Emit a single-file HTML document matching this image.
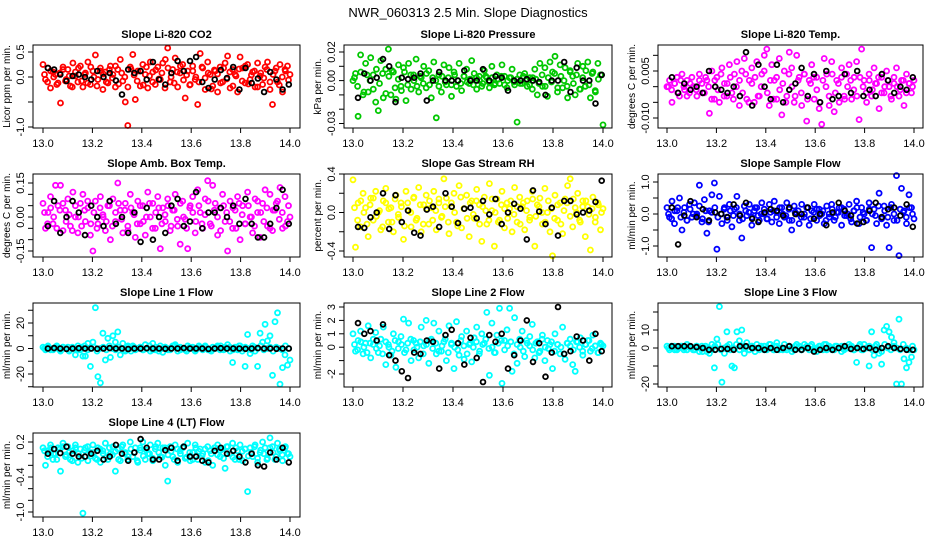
<!DOCTYPE html>
<html><head><meta charset="utf-8"><style>
html,body{margin:0;padding:0;background:#fff}
svg{display:block}
text{font-family:"Liberation Sans",sans-serif;fill:#000}
</style></head><body>
<svg id="chart" width="936" height="540" viewBox="0 0 936 540" xmlns="http://www.w3.org/2000/svg">
<text x="468" y="17" text-anchor="middle" font-size="13">NWR_060313  2.5 Min. Slope Diagnostics</text>
</svg>
<script>
const xTicks = [13.0, 13.2, 13.4, 13.6, 13.8, 14.0];
const xTickLabels = ["13.0","13.2","13.4","13.6","13.8","14.0"];

const co2 = [0.25,-0.05,0.18,-0.22,0.1,0.05,-0.12,-0.52,0.2,-0.08,0.15,-0.18,0.28,0.02,-0.1,0.22,-0.2,0.08,0.3,-0.15,0.12,0.44,-0.05,0.18,-0.25,0.1,-0.12,0.22,0.05,-0.2,0.15,0.35,-0.08,-0.5,-0.97,0.2,0.45,-0.45,0.12,-0.18,0.25,0.05,-0.22,0.3,0.1,-0.15,0.2,-0.05,0.28,0.35,0.58,-0.1,0.15,0.38,-0.2,0.08,0.25,-0.42,0.12,-0.15,0.22,-0.05,-0.55,0.47,0.18,-0.25,0.3,0.05,-0.18,0.12,-0.3,0.2,-0.1,0.28,0.42,-0.22,0.15,0.05,-0.3,0.4,0.18,-0.12,0.25,-0.05,0.1,-0.2,0.28,0.02,-0.15,0.2,0.3,-0.25,-0.55,0.12,-0.1,0.25,-0.3,0.15,0.22,0.05];
const co2B = [0.05,-0.1,0.12,0.0,-0.15,0.08,0.15,-0.05,0.02,-0.2,0.1,0.18,-0.08,0.05,-0.12,0.2,0.0,-0.18,0.12,0.06,-0.1,0.15,-0.02,0.22,-0.14,0.08,0.0,-0.2,0.16,0.04,-0.08,0.12,-0.16,0.2,0.02,-0.1,0.14,-0.04,0.08,-0.22,0.18,0.0,-0.12,0.1,0.22,-0.06,0.04,-0.16,0.12,0.0,-0.1,0.2,-0.02,0.08,-0.24,0.14,0.06,-0.12,0.18,-0.04,0.1,-0.18,0.02,0.16,-0.08,0.22,-0.14,0.04,0.12,-0.2,0.08,-0.02,0.15,-0.1,0.05,0.18,-0.16,0.0,0.12,-0.06];
const co2Ref = [0.18,0.15,0.05,-0.08,0.02,0.05,0.0,-0.05,0.12,0.0,0.08,-0.07,-0.35,0.15,0.08,0.12,-0.05,0.3,-0.05,-0.15,0.08,0.32,0.12,0.32,0.4,-0.1,-0.22,-0.05,0.14,-0.02,0.2,-0.25,0.18,-0.12,-0.03,-0.3,0.1,-0.05,-0.25,-0.15];
const press = [0.0,0.005,-0.025,0.018,-0.01,0.012,-0.008,0.016,0.004,-0.015,-0.021,0.014,-0.012,0.008,0.022,-0.01,0.006,-0.013,0.011,-0.004,0.009,-0.014,0.012,-0.006,0.004,0.015,-0.008,0.002,0.01,-0.005,0.007,-0.012,0.013,-0.026,0.004,-0.008,0.011,-0.003,0.009,-0.011,0.006,-0.004,0.012,-0.007,0.003,0.008,-0.002,0.014,0.005,-0.006,0.003,-0.004,0.007,0.002,-0.005,0.01,-0.003,0.004,-0.002,0.011,0.003,-0.005,0.002,0.008,-0.003,-0.029,0.004,-0.002,0.005,-0.004,0.002,-0.006,0.008,-0.01,0.012,-0.004,0.009,-0.011,0.013,0.006,0.017,-0.008,0.011,-0.005,0.009,-0.012,0.007,0.003,-0.01,0.012,-0.006,0.01,-0.004,0.013,-0.012,0.006,-0.008,0.012,0.004,-0.031];
const pressB = [0.002,-0.004,0.006,-0.008,0.004,0.0,-0.006,0.008,-0.002,0.005,-0.009,0.003,0.007,-0.005,0.001,-0.007,0.006,-0.003,0.004,0.0,-0.004,0.003,-0.002,0.005,-0.003,0.002,0.0,-0.004,0.003,-0.001,0.002,-0.003,0.004,0.0,-0.002,0.003,-0.001,0.001,-0.003,0.002,0.0,-0.002,0.003,-0.001,0.002,-0.002,0.001,0.003,-0.003,0.0,0.002,-0.001,0.001,-0.002,0.003,0.0,-0.003,0.002,0.001,-0.002,0.004,-0.004,0.002,-0.001,0.005,-0.005,0.003,0.0,-0.004,0.006,-0.002,0.004,-0.006,0.002,0.007,-0.003,0.005,-0.007,0.001,0.004];
const pressRef = [-0.012,0.005,0.0,0.002,0.015,0.01,-0.015,0.002,0.001,0.002,0.005,-0.014,0.0,0.006,0.0,0.0,0.0,0.007,0.0,0.0,0.008,0.0,0.003,0.002,-0.007,0.0,0.0,0.001,0.0,-0.001,-0.01,0.0,0.0,0.013,-0.008,0.009,0.0,0.0,-0.016,0.004];
const temp = [0.0,0.002,-0.005,0.001,0.003,-0.003,0.004,-0.001,0.002,-0.002,0.003,0.0,-0.003,0.004,0.001,-0.002,0.002,-0.0085,0.005,-0.004,0.003,-0.005,0.006,0.001,-0.003,0.007,-0.002,0.004,0.008,-0.006,0.005,0.009,-0.004,0.002,0.006,-0.005,0.008,-0.003,0.004,0.01,0.012,-0.006,0.007,0.002,-0.004,0.009,-0.009,0.005,-0.003,0.011,0.006,-0.005,0.01,0.003,-0.006,0.004,-0.011,0.002,0.007,-0.004,0.003,-0.007,-0.012,0.009,0.004,-0.006,0.008,-0.008,0.002,-0.005,0.006,-0.003,0.004,0.007,-0.004,0.003,0.008,-0.0105,0.012,0.002,-0.005,0.004,-0.003,0.006,0.001,-0.007,0.003,-0.002,0.005,0.0,-0.004,0.003,0.006,-0.003,0.002,-0.006,0.004,0.001,-0.002,0.002];
const tempB = [0.0,-0.001,0.001,-0.002,0.002,0.0,-0.003,0.001,0.0,-0.001,0.002,-0.002,0.003,0.0,-0.004,0.002,-0.001,0.004,-0.003,0.001,0.003,-0.004,0.0,0.002,-0.002,0.004,-0.005,0.001,0.003,-0.003,0.0,0.005,-0.002,0.002,-0.004,0.003,-0.001,0.001,-0.005,0.004,0.0,-0.003,0.002,-0.002,0.004,-0.004,0.001,0.003,-0.001,-0.005,0.002,0.0,-0.003,0.004,-0.002,0.001,0.003,-0.004,0.0,0.002,-0.001,-0.003,0.003,0.0,-0.002,0.002,-0.001,0.001,0.003,-0.002,0.0,0.002,-0.003,0.001,0.0,-0.001,0.002,-0.002,0.001,0.0];
const tempRef = [0.003,-0.002,0.001,-0.001,0.0,-0.002,0.005,0.0,-0.001,-0.002,0.0,-0.003,0.011,-0.006,0.007,0.0,-0.004,0.007,-0.005,-0.001,0.001,0.006,-0.003,0.004,-0.005,0.005,-0.004,-0.003,0.004,-0.002,0.005,-0.003,-0.001,-0.003,0.004,0.002,-0.002,0.0,-0.001,0.003];
const amb = [0.06,-0.05,0.02,0.09,-0.03,0.14,0.05,0.14,-0.06,0.03,0.08,-0.04,0.11,0.0,-0.07,0.06,0.1,-0.02,0.04,-0.08,-0.15,0.07,-0.03,0.09,0.01,-0.06,0.05,-0.1,0.08,-0.02,0.15,0.03,-0.07,0.06,-0.04,0.1,0.02,-0.09,0.07,-0.03,0.05,-0.08,0.11,0.0,0.06,-0.05,0.09,-0.14,0.04,-0.02,0.08,-0.06,0.03,0.1,-0.04,-0.12,0.07,-0.01,-0.14,0.05,0.09,-0.07,0.12,0.02,-0.05,0.08,0.16,-0.03,0.14,0.06,-0.08,0.04,0.1,-0.02,-0.15,0.07,-0.05,0.03,0.09,-0.1,0.05,-0.03,0.11,0.0,-0.07,0.08,0.02,-0.09,0.06,0.12,-0.04,0.1,-0.06,0.03,0.07,0.13,-0.05,0.09,-0.02,0.0];
const ambB = [0.02,-0.03,0.04,0.0,-0.05,0.03,0.06,-0.02,0.01,-0.06,0.05,0.0,-0.04,0.03,0.07,-0.03,0.02,-0.05,0.04,0.0,-0.02,0.05,-0.04,0.02,0.06,-0.01,0.03,-0.06,0.04,0.01,-0.03,0.05,-0.02,0.0,0.06,-0.05,0.02,0.04,-0.03,0.01,0.05,-0.04,0.03,-0.01,0.06,0.0,-0.05,0.04,0.02,-0.02,0.05,-0.03,0.01,0.07,-0.04,0.03,0.0,-0.06,0.05,0.02,-0.02,0.04,-0.05,0.06,0.01,-0.03,0.05,0.0,-0.04,0.07,0.02,-0.02,0.04,-0.05,0.03,0.06,-0.01,0.02,-0.04,0.05];
const ambRef = [-0.04,0.07,-0.07,0.0,0.07,0.02,-0.08,0.05,0.0,-0.04,0.07,-0.03,0.0,-0.07,0.02,-0.11,0.04,-0.1,0.0,-0.07,0.05,0.08,-0.04,-0.02,0.11,-0.05,0.02,0.02,0.04,0.0,0.05,-0.03,0.08,-0.03,-0.09,-0.09,-0.03,0.04,0.12,-0.03];
const rh = [0.34,-0.36,0.1,-0.15,0.2,0.05,-0.25,0.15,-0.08,0.22,0.0,-0.18,0.12,0.25,-0.1,0.05,-0.2,0.18,-0.05,0.1,-0.28,0.22,0.02,-0.15,0.15,-0.08,0.26,-0.2,0.08,0.18,-0.12,0.05,0.22,-0.18,0.1,-0.05,0.35,0.15,-0.22,0.06,0.2,-0.1,0.28,-0.16,0.04,0.18,-0.25,0.12,-0.06,0.24,0.08,-0.3,0.16,-0.12,0.3,0.02,-0.35,0.14,-0.08,0.22,-0.16,0.1,0.04,-0.2,0.26,-0.1,0.16,0.06,-0.18,0.12,-0.05,0.22,-0.35,0.08,0.15,-0.12,0.25,0.0,-0.2,-0.45,0.18,-0.08,0.1,-0.22,0.14,0.28,0.35,-0.15,0.05,0.2,-0.1,0.12,-0.25,0.06,-0.39,0.16,-0.05,0.1,-0.18,0.04];
const rhB = [0.05,-0.08,0.12,0.0,-0.12,0.08,0.15,-0.04,0.02,-0.15,0.1,0.04,-0.1,0.14,-0.02,0.06,-0.14,0.1,0.0,0.16,-0.06,0.08,-0.12,0.04,0.12,-0.08,0.02,0.14,-0.04,0.06,-0.1,0.1,0.0,-0.14,0.16,0.04,-0.06,0.1,-0.02,0.12,-0.12,0.06,0.02,-0.08,0.14,0.0,-0.1,0.08,0.04,-0.06,0.12,-0.02,0.06,-0.12,0.1,0.02,-0.08,0.14,-0.04,0.06,0.0,-0.1,0.12,0.04,-0.06,0.08,-0.12,0.02,0.1,-0.04,0.14,0.0,-0.08,0.06,0.12,-0.02,0.04,-0.1,0.08,0.0];
const rhRef = [-0.15,-0.16,-0.05,0.0,0.2,-0.17,0.18,-0.1,0.02,-0.21,-0.24,0.03,0.06,-0.15,0.2,0.06,-0.11,0.04,0.05,-0.06,0.12,-0.02,0.14,-0.12,0.0,0.09,0.04,-0.28,0.23,0.01,-0.12,0.05,-0.24,0.12,0.12,-0.02,0.0,0.02,0.11,0.33];
const sample = [0.2,-0.1,0.4,-0.3,0.1,0.5,-0.5,0.2,-0.2,0.3,-0.1,0.35,0.0,0.9,-0.25,0.45,-0.6,0.1,0.6,0.97,-1.1,0.55,-0.3,0.2,-0.1,0.3,-0.4,0.15,0.55,-0.2,-0.75,0.25,-0.05,0.3,-0.35,0.1,0.2,-0.2,0.35,0.0,-0.15,0.3,-0.25,0.4,0.05,-0.3,0.2,-0.1,0.35,-0.2,-0.5,0.25,0.0,-0.3,0.3,-0.1,0.2,-0.35,0.1,0.3,-0.2,0.15,0.0,-0.3,0.25,-0.1,0.3,-0.2,0.05,0.2,-0.35,0.15,-0.05,0.3,-0.25,0.1,0.4,-0.3,0.2,0.0,-0.2,0.35,-1.05,0.15,-0.3,0.65,-0.1,0.25,-0.35,-1.05,0.3,-0.2,1.2,-1.3,0.8,0.1,-0.3,0.6,0.2,-0.15];
const sampleB = [0.0,-0.15,0.1,0.2,-0.1,0.05,-0.2,0.15,0.0,-0.05,0.25,-0.15,0.1,-0.25,0.05,0.2,-0.1,0.0,0.15,-0.2,0.1,-0.05,0.2,0.0,-0.15,0.1,0.05,-0.1,0.2,-0.05,0.0,0.15,-0.15,0.05,0.1,-0.1,0.2,0.0,-0.05,0.15,-0.2,0.05,0.1,-0.1,0.0,0.2,-0.15,0.05,0.15,-0.05,0.1,-0.2,0.0,0.15,-0.1,0.05,0.2,-0.05,0.0,-0.15,0.1,0.2,-0.1,0.05,-0.2,0.15,0.0,-0.05,0.25,-0.15,0.1,-0.1,0.2,0.0,-0.2,0.15,0.05,-0.1,0.2,0.0];
const sampleRef = [0.2,-0.95,-0.05,0.4,-0.1,0.15,-0.2,0.05,0.0,-0.1,0.3,-0.05,0.35,-0.15,-0.25,0.05,0.15,0.1,-0.05,0.2,0.0,0.0,0.2,-0.15,0.0,-0.35,0.05,0.35,0.1,-0.05,-0.3,-0.25,0.1,0.35,-0.1,0.15,0.2,-0.05,0.3,-0.4];
const line1 = [1,-1,2,0,-1,1,0,-2,1,0,1,-1,0,-5,2,-1,-6,-6,4,-14,5,32,-22,-27,12,-9,8,-7,10,5,13,-5,4,-2,1,0,2,-1,0,1,-1,3,0,-2,4,-1,0,2,-3,1,0,-1,2,3,-2,1,0,-1,2,0,1,-2,0,1,-1,2,0,-1,1,0,2,-1,0,1,3,-2,-11,1,-1,2,0,-14,11,-4,2,-2,-14,12,5,19,6,10,-21,21,28,-28,-15,-5,-13,-9];
const line1B = [0,1,-1,0,2,-1,1,0,-2,1,0,-1,1,2,-1,0,1,-2,0,1,-1,2,0,-1,1,0,-1,2,-2,1,0,1,-1,0,2,-1,1,-2,0,1,-1,0,2,1,-1,0,-2,1,0,-1,2,0,1,-1,-2,0,1,2,-1,0,1,-1,0,2,-2,1,0,-1,1,0,2,-1,0,1,-2,1,0,-1,2,0];
const line1Ref = [0,0.3,0,-0.3,0,0.2,0,0,-0.2,0,0.3,0,0,-0.4,0,0,0.2,0,0,-0.2,0,0,0.3,0,0,0,-0.3,0,0.2,0,0,0,-0.2,0,0.3,0,0,-0.2,0,0];
const line2 = [1.0,-0.3,0.5,1.2,-0.5,0.3,1.6,-0.8,0.2,1.1,-0.4,0.6,1.5,-1.3,0.2,-0.6,1.0,-1.5,0.4,0.8,2.1,-0.2,1.8,-1.0,0.5,0.3,-0.8,1.5,0.1,2.0,-1.2,0.6,1.8,-0.5,1.2,-0.3,0.4,-1.0,1.6,0.3,-1.6,1.9,-0.6,0.8,-0.9,1.2,0.2,-1.1,0.7,1.5,-0.5,1.0,0.3,2.6,-2.1,1.8,-0.4,0.9,2.9,-2.7,0.5,1.3,2.9,-1.8,2.2,-1.2,0.6,1.2,-0.7,0.3,0.8,1.7,-0.8,0.4,-0.3,0.9,-1.0,0.5,0.2,-1.6,1.0,0.2,-0.5,1.5,-0.9,0.3,0.6,-1.3,-1.8,0.4,0.7,-0.6,0.2,0.5,-0.3,0.9,0.1,-0.4,0.3,0.1];
const line2B = [0.2,-0.2,0.4,0.0,-0.4,0.3,0.6,-0.1,0.1,-0.5,0.4,0.0,-0.3,0.5,-0.1,0.2,-0.4,0.3,0.6,-0.2,0.0,0.4,-0.5,0.2,0.5,-0.1,0.3,-0.3,0.1,0.6,-0.4,0.2,0.0,-0.2,0.5,0.1,-0.5,0.3,0.0,0.4,-0.3,0.2,0.6,-0.1,0.0,-0.4,0.3,0.5,-0.2,0.1,0.4,-0.5,0.2,0.0,-0.3,0.5,0.1,-0.2,0.3,-0.4,0.6,0.0,-0.1,0.4,-0.3,0.2,0.0,-0.5,0.3,0.1,-0.2,0.4,0.0,-0.3,0.2,0.5,-0.1,0.1,-0.4,0.2];
const line2Ref = [1.8,1.0,1.2,0.5,1.7,-0.6,-1.0,-1.8,-2.3,-0.4,-0.5,0.5,0.4,-1.6,0.9,1.3,0.3,-1.3,0.7,-0.8,-2.6,0.9,0.4,1.0,-1.6,-0.6,0.5,2.0,-1.1,0.3,-2.2,-0.4,3.0,-0.5,-0.3,0.8,0.5,-1.0,1.0,-0.3];
const line3 = [1,-1,0,1,-1,0,1,0,-1,1,0,-1,1,-2,1,0,-2,-3,2,-11,5,23,-19,-3,9,2,-10,-11,9,4,10,-3,3,-1,1,0,2,-1,0,1,-1,2,0,-1,3,-1,0,2,-1,1,0,-1,2,1,-1,0,1,-1,2,0,-2,1,0,2,-1,1,0,-1,1,0,1,-1,0,2,1,-1,-8,1,-1,2,0,-10,9,-4,2,-3,-9,10,12,9,6,3,-20,16,-20,-6,-11,-8,-5,-1];
const line3B = [0,1,-1,0,1,-1,2,0,-1,1,0,-2,1,0,-1,1,2,-1,0,1,-1,0,2,-1,1,0,-1,1,-2,0,1,-1,0,2,-1,1,0,-1,0,1,-2,1,0,-1,2,0,1,-1,0,1,-1,2,0,-1,1,0,-2,1,0,1,-1,0,2,-1,0,1,-1,1,0,-2,2,0,-1,1,0,-1,2,0,-1,1];
const line3Ref = [1,1,1,1,0.5,0,-1,-1,-0.5,-0.5,-1,1,1,0,0,-1,0,-1,0,1,-1,-1,0,-2,-1,0,-1,0,1,-0.5,0,-0.5,0,-1,0,1,0,-0.5,-1,-1];
const line4 = [0.1,-0.2,0.05,0.15,-0.1,0.0,0.1,-0.3,0.18,-0.05,0.12,-0.1,0.05,0.15,-0.15,0.08,-1.02,0.1,-0.12,0.02,0.15,-0.08,0.1,-0.15,0.05,0.18,-0.1,0.0,0.12,-0.3,0.08,-0.12,0.15,0.02,-0.1,0.2,-0.05,0.1,-0.15,0.06,0.2,-0.1,0.0,0.15,-0.12,0.08,0.18,-0.05,0.1,-0.2,-0.47,0.12,-0.05,0.15,-0.15,0.05,0.1,-0.08,0.18,-0.12,0.02,0.15,-0.1,0.08,0.0,-0.15,0.12,0.05,-0.2,0.1,0.15,-0.05,0.08,-0.25,0.12,0.0,0.18,-0.1,0.05,0.15,-0.12,0.08,-0.65,0.1,-0.05,0.15,-0.15,0.02,0.2,0.1,-0.08,0.27,0.12,-0.1,0.18,0.05,-0.12,0.1,0.0,-0.05];
const line4B = [0.05,-0.05,0.1,0.0,-0.1,0.08,0.12,-0.02,0.02,-0.12,0.1,0.0,-0.08,0.06,0.12,-0.04,0.02,-0.1,0.08,0.0,-0.06,0.1,-0.02,0.04,-0.1,0.12,0.0,-0.05,0.08,0.02,-0.12,0.1,-0.04,0.06,0.0,-0.08,0.12,0.02,-0.06,0.1,-0.02,0.04,-0.1,0.08,0.0,0.12,-0.06,0.02,-0.1,0.1,0.04,-0.04,0.08,-0.12,0.0,0.1,-0.02,0.06,-0.08,0.12,0.0,-0.06,0.1,-0.1,0.04,0.08,-0.04,0.02,0.12,-0.08,0.06,0.0,-0.1,0.1,0.02,-0.05,0.08,-0.02,0.12,0.0];
const line4Ref = [0.0,0.08,0.01,0.12,0.0,-0.05,-0.05,0.0,0.05,-0.1,-0.05,0.15,0.0,-0.12,0.02,0.25,0.1,-0.1,-0.1,0.06,0.1,-0.12,0.12,-0.05,-0.05,-0.12,-0.15,0.05,0.1,0.0,0.05,-0.05,-0.15,0.0,-0.2,-0.22,0.02,-0.1,0.1,-0.15];

const NS = "http://www.w3.org/2000/svg";
const svg = document.getElementById("chart");
function mk(tag, attrs, parent){const e=document.createElementNS(NS,tag);for(const k in attrs)e.setAttribute(k,attrs[k]);(parent||svg).appendChild(e);return e;}

const cols = [{l:33,r:300,x0:43,x1:290},{l:344,r:612,x0:353,x1:603},{l:658,r:923,x0:667,x1:914}];
const rows = [{t:45,b:128},{t:174,b:257},{t:303,b:387},{t:433,b:517}];

const panels = [
 {id:"co2",title:"Slope Li-820 CO2",ylab:"Licor ppm per min.",c:0,r:0,color:"#ff0000",data:co2,band:co2B,ref:co2Ref,v0:0.5,p0:52,v1:-1.0,p1:127,ticks:[0.5,0,-0.5,-1.0],labels:{"0.5":"0.5","0":"0.0","-1":"-1.0"}},
 {id:"pressure",title:"Slope Li-820 Pressure",ylab:"kPa per min.",c:1,r:0,color:"#00c800",data:press,band:pressB,ref:pressRef,v0:0.02,p0:52,v1:-0.03,p1:123.5,ticks:[0.02,0.01,0,-0.01,-0.02,-0.03],labels:{"0.02":"0.02","0":"0.00","-0.03":"-0.03"}},
 {id:"temp",title:"Slope Li-820 Temp.",ylab:"degrees C per min.",c:2,r:0,color:"#ff00ff",data:temp,band:tempB,ref:tempRef,v0:0.005,p0:71,v1:-0.01,p1:118,ticks:[0.01,0.005,0,-0.005,-0.01],labels:{"0.005":"0.005","-0.01":"-0.010"}},
 {id:"amb-box-temp",title:"Slope Amb. Box Temp.",ylab:"degrees C per min.",c:0,r:1,color:"#ff00ff",data:amb,band:ambB,ref:ambRef,v0:0.15,p0:183,v1:-0.15,p1:251,ticks:[0.15,0.1,0.05,0,-0.05,-0.1,-0.15],labels:{"0.15":"0.15","0":"0.00","-0.15":"-0.15"}},
 {id:"gas-stream-rh",title:"Slope Gas Stream RH",ylab:"percent per min.",c:1,r:1,color:"#ffff00",data:rh,band:rhB,ref:rhRef,v0:0.4,p0:174,v1:-0.4,p1:251,ticks:[0.4,0.2,0,-0.2,-0.4],labels:{"0.4":"0.4","0":"0.0","-0.4":"-0.4"}},
 {id:"sample-flow",title:"Slope Sample Flow",ylab:"ml/min per min.",c:2,r:1,color:"#0000ff",data:sample,band:sampleB,ref:sampleRef,v0:1.0,p0:182,v1:-1.0,p1:246,ticks:[1,0.5,0,-0.5,-1],labels:{"1":"1.0","0":"0.0","-1":"-1.0"}},
 {id:"line1-flow",title:"Slope Line 1 Flow",ylab:"ml/min per min.",c:0,r:2,color:"#00ffff",data:line1,band:line1B,ref:line1Ref,v0:20,p0:323,v1:-20,p1:374,ticks:[30,20,10,0,-10,-20,-30],labels:{"20":"20","0":"0","-20":"-20"}},
 {id:"line2-flow",title:"Slope Line 2 Flow",ylab:"ml/min per min.",c:1,r:2,color:"#00ffff",data:line2,band:line2B,ref:line2Ref,v0:3,p0:307,v1:-2,p1:374,ticks:[3,2,1,0,-1,-2],labels:{"3":"3","2":"2","1":"1","0":"0","-2":"-2"}},
 {id:"line3-flow",title:"Slope Line 3 Flow",ylab:"ml/min per min.",c:2,r:2,color:"#00ffff",data:line3,band:line3B,ref:line3Ref,v0:10,p0:330,v1:-20,p1:384,ticks:[20,10,0,-10,-20],labels:{"10":"10","0":"0","-20":"-20"}},
 {id:"line4-flow",title:"Slope Line 4 (LT) Flow",ylab:"ml/min per min.",c:0,r:3,color:"#00ffff",data:line4,band:line4B,ref:line4Ref,v0:0.2,p0:442,v1:-1.0,p1:512,ticks:[0.2,0,-0.2,-0.4,-0.6,-0.8,-1.0],labels:{"0.2":"0.2","-0.4":"-0.4","-1":"-1.0"}}
];

panels.forEach(p=>{
  const C=cols[p.c], R=rows[p.r];
  const xs = v => C.x0 + (v-13)*(C.x1-C.x0);
  const ys = v => p.p0 + (v-p.v0)*(p.p1-p.p0)/(p.v1-p.v0);
  const g = mk("g",{});
  
  
  const t = mk("text",{x:(C.l+C.r)/2,y:R.t-7,"text-anchor":"middle","font-size":"11","font-weight":"bold"},g);
  t.textContent=p.title;
  
  
  const pts = mk("g",{},g);
  
  
  const n=p.data.length;
  p.data.forEach((v,i)=>{
    const c=mk("circle",{cx:xs(13+i/(n-1)).toFixed(1),cy:ys(v).toFixed(1),r:2.5,fill:"none",stroke:p.color,"stroke-width":1.8},pts);
    
    
  });
  const k=p.band.length;
  p.band.forEach((v,i)=>{
    const c=mk("circle",{cx:xs(13.006+i*0.988/(k-1)).toFixed(1),cy:ys(v).toFixed(1),r:2.5,fill:"none",stroke:p.color,"stroke-width":1.8},pts);
    
    
  });
  const m=p.ref.length;
  p.ref.forEach((v,i)=>{
    const c=mk("circle",{cx:xs(13.02+i*0.975/(m-1)).toFixed(1),cy:ys(v).toFixed(1),r:2.4,fill:"none",stroke:"#000","stroke-width":1.8},pts);
    
    
  });
  const box=mk("rect",{x:C.l,y:R.t,width:C.r-C.l,height:R.b-R.t,fill:"none",stroke:"#000","stroke-width":1},g);
  
  
  const xa=mk("g",{},g);
  
  
  xTicks.forEach((v,i)=>{
    mk("line",{x1:xs(v),x2:xs(v),y1:R.b,y2:R.b+5,stroke:"#000"},xa);
    const tl=mk("text",{x:xs(v),y:R.b+19,"text-anchor":"middle","font-size":"11"},xa);
    tl.textContent=xTickLabels[i];
    
    
  });
  const ya=mk("g",{},g);
  
  
  p.ticks.forEach(v=>{
    const y=ys(v);
    mk("line",{x1:C.l-5,x2:C.l,y1:y,y2:y,stroke:"#000"},ya);
    const key=String(Math.round(v*100000)/100000);
    if(p.labels[key]!==undefined){
      const tl=mk("text",{x:C.l-9,y:y,"text-anchor":"middle","font-size":"11",transform:`rotate(-90 ${C.l-9} ${y})`},ya);
      tl.textContent=p.labels[key];
      
      
    }
  });
  const yl=mk("text",{x:C.l-23,y:(R.t+R.b)/2,"text-anchor":"middle","font-size":"10",transform:`rotate(-90 ${C.l-23} ${(R.t+R.b)/2})`},g);
  yl.textContent=p.ylab;
  
  
});
</script>
</body></html>
